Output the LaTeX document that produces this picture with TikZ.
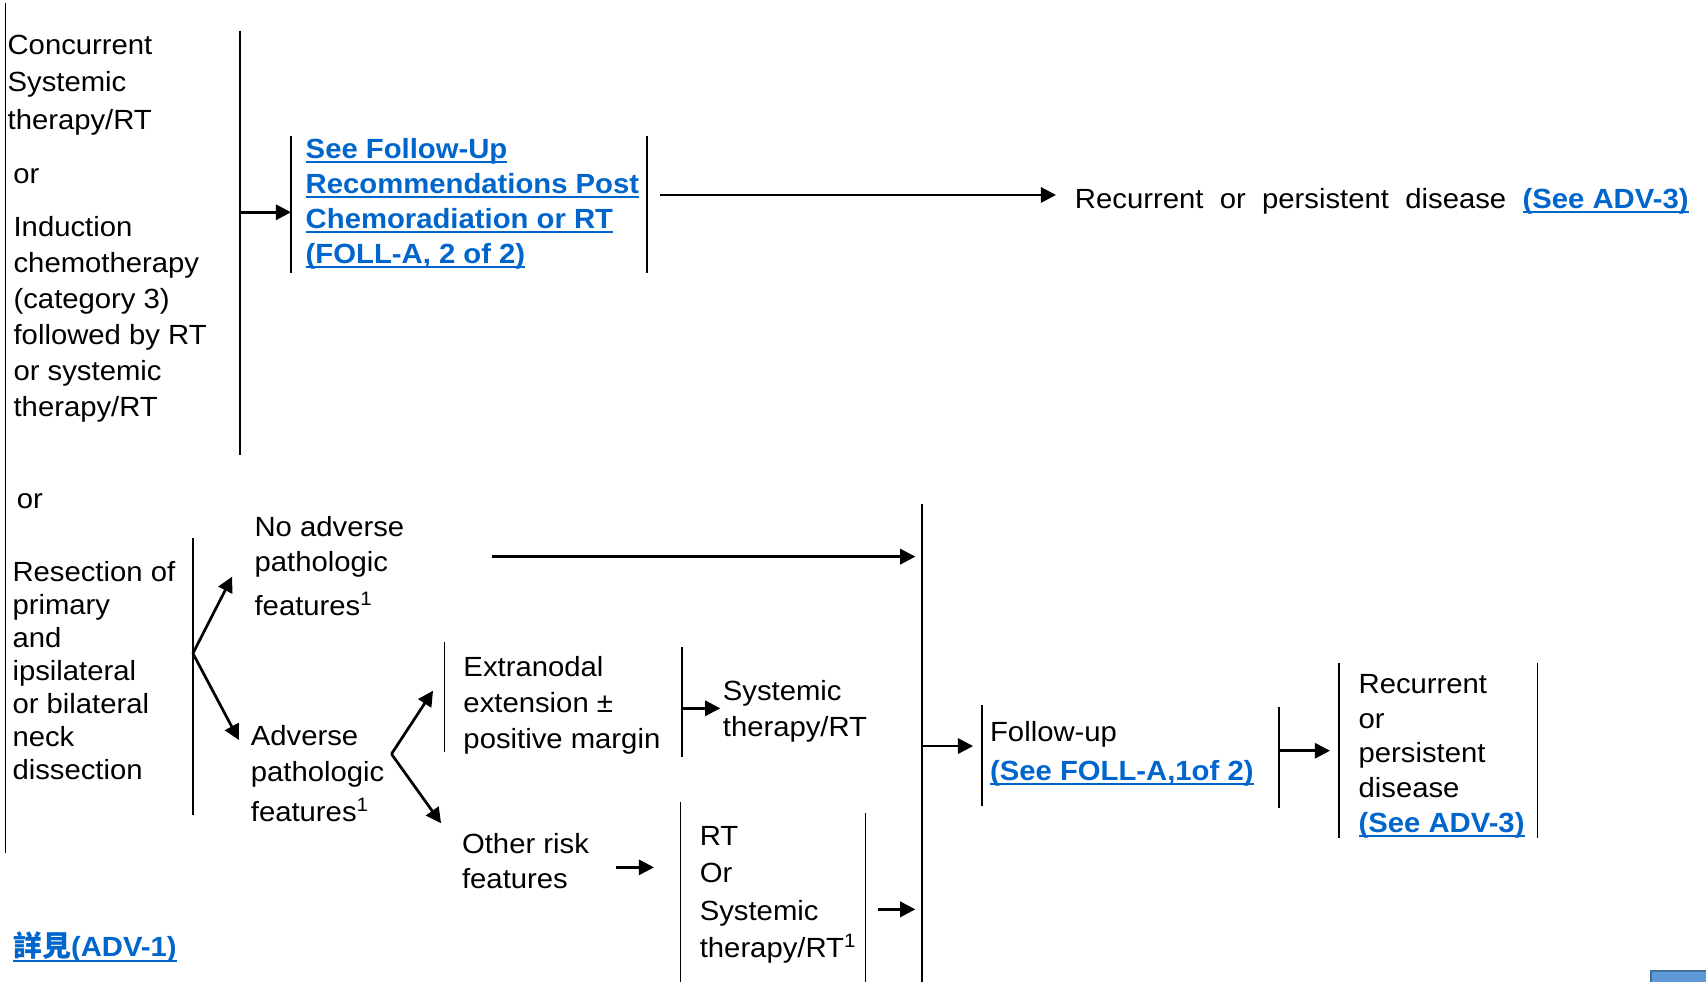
\documentclass[tikz,border=0pt]{standalone}
\usepackage{fontspec}
\setmainfont{Liberation Sans}[FakeStretch=1.055]
\newfontfamily\cjkfont{Noto Sans CJK TC}
\usetikzlibrary{arrows.meta}

\definecolor{linkblue}{RGB}{0,102,204}
\definecolor{btnfill}{RGB}{94,155,214}
\definecolor{btnedge}{RGB}{66,113,158}

% font size with a chosen line spacing
\newcommand\fs[1]{\fontsize{25.5}{#1}\selectfont}
% blue, bold, underlined hyperlink text
\newsavebox\lnkbox
\newcommand\lnk[1]{\sbox\lnkbox{\color{linkblue}\bfseries #1}%
  \rlap{\color{linkblue}\rule[-4.3pt]{\wd\lnkbox}{1.6pt}}\usebox\lnkbox}

\tikzset{
  txt/.style={inner sep=0pt, outer sep=0pt, align=left, anchor=north west},
  bar/.style={line width=1.3pt},
  flow/.style={line width=2.5pt, -{Triangle[length=14pt,width=14pt]}},
}

\begin{document}
\begin{tikzpicture}[x=1pt,y=-1pt]
\useasboundingbox (0,0) rectangle (1568,903);
\fill[white] (0,0) rectangle (1568,903);

% ---------- upper branch ----------
\node[txt, font=\fs{34.4}] (conc) at (7,32.2) {Concurrent\\Systemic\\therapy/RT};
\node[txt, anchor=base west, font=\fs{30}] (or1) at (12.3,168.5) {or};
\node[txt, font=\fs{33.1}] (induct) at (12.5,199.2)
  {Induction\\chemotherapy\\(category 3)\\followed by RT\\or systemic\\therapy/RT};

\node[txt, font=\fs{32.2}] (foll2) at (281,127.1)
  {\lnk{See Follow-Up}\\\lnk{Recommendations Post}\\\lnk{Chemoradiation or RT}\\\lnk{(FOLL-A, 2 of 2)}};

\node[txt, anchor=base west, font=\fs{30}] (recur1) at (988,191.5)
  {\makebox[564pt][s]{Recurrent or persistent disease \mbox{\lnk{(See ADV-3)}}}};

% brackets of the upper branch
\coordinate (l0t) at (5,3);      \coordinate (l0b) at (5,784.3);
\coordinate (b1t) at (220.7,28.2); \coordinate (b1b) at (220.7,418);
\coordinate (b1m) at (220.7,195.1);
\coordinate (b2t) at (267.5,125);  \coordinate (b2b) at (267.5,251.2);
\coordinate (b2m) at (267.5,195.1);
\coordinate (b3t) at (594.8,125);  \coordinate (b3b) at (594.8,251.2);
\coordinate (a2s) at (607,179.2);  \coordinate (a2e) at (970.6,179.2);

\draw[line width=1.7pt] (l0t) -- (l0b);
\draw[bar] (b1t) -- (b1b);
\draw[bar] (b2t) -- (b2b);
\draw[bar] (b3t) -- (b3b);
\draw[flow] (b1m) -- (b2m);
\draw[flow] (a2s) -- (a2e);

% ---------- lower branch ----------
\node[txt, anchor=base west, font=\fs{30}] (or2) at (15.6,467.2) {or};
\node[txt, font=\fs{30.3}] (resect) at (11.5,516.2)
  {Resection of\\primary\\and\\ipsilateral\\or bilateral\\neck\\dissection};

\node[txt, font=\fs{32.1}] (noadv) at (234,474.9)
  {No adverse\\pathologic\\[7.8pt]features\textsuperscript{1}};
\node[txt, font=\fs{33.6}] (adv) at (230.6,666.4)
  {Adverse\\pathologic\\[3.2pt]features\textsuperscript{1}};

\node[txt, font=\fs{33}] (extra) at (426,603.6)
  {Extranodal\\extension \textpm\\positive margin};
\node[txt, font=\fs{33.7}] (sysrt) at (664.4,625) {Systemic\\therapy/RT};

\node[txt, font=\fs{32.1}] (other) at (424.7,766) {Other risk\\features};
\node[txt, font=\fs{34.2}] (rtor) at (643.2,759.8)
  {RT\\Or\\Systemic\\therapy/RT\textsuperscript{1}};

\node[txt, font=\fs{35.2}] (fu) at (910,663.3)
  {Follow-up\\\lnk{(See FOLL-A,1of 2)}};
\node[txt, font=\fs{31.9}] (recur2) at (1248.7,619.8)
  {Recurrent\\or\\persistent\\disease\\\lnk{(See ADV-3)}};

\node[txt, anchor=base west, font=\fs{30}] (adv1) at (12.3,879.5)
  {\lnk{{\cjkfont\bfseries\fontsize{26.5}{30}\selectfont 詳見}(ADV-1)}};

% brackets of the lower branch
\coordinate (b4t) at (177.3,494.8); \coordinate (b4b) at (177.3,749);
\coordinate (b4m) at (177.3,600.5);
\coordinate (a3e) at (213.4,530);   \coordinate (a4e) at (219.5,680.1);
\coordinate (a5s) at (452.6,511.6); \coordinate (a5e) at (841.3,511.6);
\coordinate (fork) at (359.8,693);
\coordinate (a6e) at (398,634.8);   \coordinate (a7e) at (405.4,756.7);
\coordinate (b5t) at (408.3,589.8); \coordinate (b5b) at (408.3,690.9);
\coordinate (b6t) at (627,594.4);   \coordinate (b6b) at (627,695.5);
\coordinate (b6m) at (627,651);     \coordinate (a8e) at (662,651);
\coordinate (b7t) at (625.7,736.8); \coordinate (b7b) at (625.7,903);
\coordinate (a11s) at (566.2,797.2); \coordinate (a11e) at (601.1,797.2);
\coordinate (b8t) at (795.7,747.5); \coordinate (b8b) at (795.7,903);
\coordinate (a12s) at (807,835.8);  \coordinate (a12e) at (841.3,835.8);
\coordinate (b9t) at (847.5,463.2); \coordinate (b9b) at (847.5,903);
\coordinate (b9m) at (847.5,685.7); \coordinate (a9e) at (894.4,685.7);
\coordinate (b10t) at (902.6,648);  \coordinate (b10b) at (902.6,740.8);
\coordinate (b11t) at (1175.5,649.5); \coordinate (b11b) at (1175.5,742.3);
\coordinate (b11m) at (1175.5,690); \coordinate (a10e) at (1222.4,690);
\coordinate (b12t) at (1230.5,609); \coordinate (b12b) at (1230.5,770.5);
\coordinate (b13t) at (1413,609);   \coordinate (b13b) at (1413,770.5);

\foreach \p in {4,5,6,7,8,9,10,11,12,13}
  \draw[bar] (b\p t) -- (b\p b);

\draw[flow] (b4m) -- (a3e);
\draw[flow] (b4m) -- (a4e);
\draw[flow] (a5s) -- (a5e);
\draw[flow] (fork) -- (a6e);
\draw[flow] (fork) -- (a7e);
\draw[flow] (b6m) -- (a8e);
\draw[flow] (a11s) -- (a11e);
\draw[flow] (a12s) -- (a12e);
\draw[flow] (b9m) -- (a9e);
\draw[flow] (b11m) -- (a10e);

% corner button
\fill[btnfill] (1517.4,892.5) rectangle (1568,903);
\draw[btnedge, line width=1.5pt] (1517.4,903) -- (1517.4,892.5) -- (1568,892.5);
\end{tikzpicture}
\end{document}
